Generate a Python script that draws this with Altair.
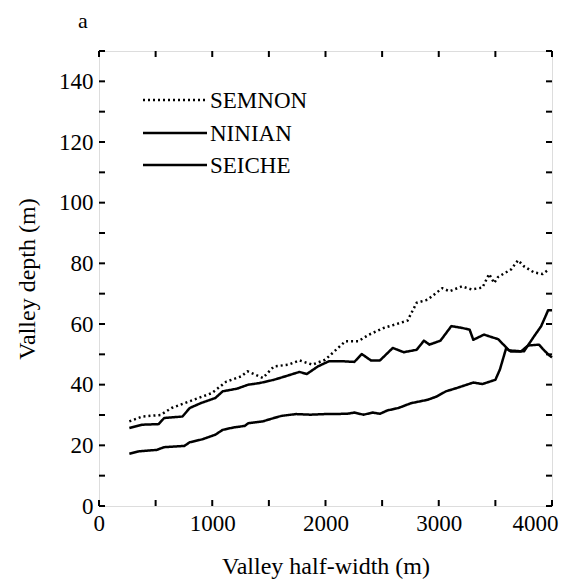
import altair as alt
import pandas as pd

# ---------------- data ----------------
semnon_x = [268, 381, 543, 640, 834, 995, 1124, 1253, 1312, 1447, 1544, 1674, 1770, 1884,
            1997, 2175, 2288, 2385, 2514, 2611, 2724, 2805, 2901, 3031, 3095, 3205, 3289,
            3386, 3445, 3489, 3524, 3639, 3700, 3753, 3841, 3918, 3965]
semnon_y = [27.9, 29.5, 30.0, 32.3, 35.0, 37.2, 41.0, 42.7, 44.4, 42.2, 46.0, 46.6, 48.0, 46.6,
            48.2, 54.3, 54.3, 56.5, 58.7, 59.8, 61.1, 67.0, 68.0, 71.8, 70.8, 72.4, 71.4,
            72.0, 76.5, 73.5, 75.5, 78.0, 81.0, 79.0, 77.0, 76.5, 77.8]

ninian_x = [268, 381, 527, 575, 737, 801, 898, 1027, 1092, 1221, 1318, 1415, 1544, 1641,
            1770, 1835, 1932, 2029, 2158, 2255, 2320, 2401, 2481, 2594, 2691, 2805, 2869,
            2918, 3015, 3111, 3208, 3273, 3305, 3400, 3524, 3577, 3621, 3727, 3789, 3885,
            3918, 3974, 4000]
ninian_y = [25.7, 26.8, 27.0, 29.0, 29.5, 32.3, 33.9, 35.6, 37.8, 38.7, 40.0, 40.5, 41.6, 42.7,
            44.2, 43.5, 46.0, 47.7, 47.7, 47.5, 50.1, 48.0, 48.0, 52.1, 50.7, 51.5, 54.5,
            53.2, 54.5, 59.3, 58.7, 58.1, 54.8, 56.5, 55.0, 53.0, 51.3, 51.0, 52.9, 53.2,
            51.8, 49.7, 49.0]

seiche_x = [268, 349, 511, 575, 753, 801, 914, 1027, 1092, 1189, 1286, 1318, 1447, 1544,
            1609, 1738, 1867, 1997, 2191, 2255, 2336, 2417, 2481, 2546, 2643, 2756, 2901,
            2982, 3063, 3160, 3305, 3386, 3500, 3540, 3595, 3639, 3753, 3841, 3903, 3947,
            3965, 4000]
seiche_y = [17.2, 18.0, 18.5, 19.4, 19.8, 21.0, 22.0, 23.5, 25.1, 25.9, 26.4, 27.3, 27.9, 29.0,
            29.7, 30.3, 30.1, 30.3, 30.4, 30.8, 30.1, 30.8, 30.4, 31.5, 32.3, 33.9, 35.0,
            36.1, 37.8, 38.9, 40.7, 40.2, 41.6, 45.0, 52.0, 50.9, 51.0, 55.9, 59.2, 62.9,
            64.5, 64.5]

series_names = ["SEMNON", "NINIAN", "SEICHE"]
x_tick_labels = [0, 1000, 2000, 3000, 4000]
y_tick_labels = [0, 20, 40, 60, 80, 100, 120, 140]
x_minor = list(range(0, 4001, 500))
y_minor = list(range(0, 151, 10))
panel_label = ["a"]

# ---------------- layout ----------------
W, H = 453, 455
FONT = "Liberation Serif"

rows = []
for name, xs, ys in [("SEMNON", semnon_x, semnon_y),
                     ("NINIAN", ninian_x, ninian_y),
                     ("SEICHE", seiche_x, seiche_y)]:
    for xv, yv in zip(xs, ys):
        rows.append({"series": name, "x": xv, "y": yv})
df = pd.DataFrame(rows)

xscale = alt.Scale(domain=[0, 4000], nice=False, zero=False)
yscale = alt.Scale(domain=[0, 150], nice=False, zero=False)

x_axis = alt.Axis(values=x_tick_labels, format="d", title="Valley half-width (m)", grid=False,
                  domain=False, ticks=False, tickSize=0, labelPadding=6, titlePadding=19,
                  labelFont=FONT, titleFont=FONT, labelFontSize=23, titleFontSize=24,
                  titleFontWeight="normal", labelColor="black", titleColor="black",
                  labelFlush=True, labelFlushOffset=6)
y_axis = alt.Axis(values=y_tick_labels, format="d", title="Valley depth (m)", grid=False,
                  domain=False, ticks=False, tickSize=0, labelPadding=6, titlePadding=19,
                  labelFont=FONT, titleFont=FONT, labelFontSize=23, titleFontSize=24,
                  titleFontWeight="normal", labelColor="black", titleColor="black",
                  labelFlush=False)

lines = alt.Chart(df).mark_line(color="black", strokeWidth=2.5, strokeJoin="round").encode(
    x=alt.X("x:Q", scale=xscale, axis=x_axis),
    y=alt.Y("y:Q", scale=yscale, axis=y_axis),
    detail="series:N",
    strokeDash=alt.StrokeDash("series:N",
                              scale=alt.Scale(domain=series_names,
                                              range=[[2, 3], [1, 0], [1, 0]]),
                              legend=None),
    order="x:Q",
)

# inside ticks (bottom, top, left, right), positioned through the scales
xt = pd.DataFrame({"v": x_minor})
yt = pd.DataFrame({"v": y_minor})

def xticks(y0, y1):
    return alt.Chart(xt).mark_rule(color="black", strokeWidth=2).encode(
        x=alt.X("v:Q", scale=xscale, axis=x_axis), y=alt.value(y0), y2=alt.value(y1))

def yticks(x0, x1):
    return alt.Chart(yt).mark_rule(color="black", strokeWidth=2).encode(
        y=alt.Y("v:Q", scale=yscale, axis=y_axis), x=alt.value(x0), x2=alt.value(x1))

ticks = [xticks(H, H - 6), xticks(0, 6), yticks(0, 6), yticks(W, W - 6)]

# legend drawn in the upper-left corner
leg_x0, leg_x1, leg_tx = 44, 108, 111
leg_y = [49, 82, 114]
dashes = [[2, 3], [1, 0], [1, 0]]
legend_layers = []
for name, yy, dash in zip(series_names, leg_y, dashes):
    ld = pd.DataFrame({"label": [name]})
    legend_layers.append(
        alt.Chart(ld).mark_rule(color="black", strokeWidth=2.5, strokeDash=dash).encode(
            x=alt.value(leg_x0), x2=alt.value(leg_x1), y=alt.value(yy)))
    legend_layers.append(
        alt.Chart(ld).mark_text(align="left", baseline="middle", font=FONT, fontSize=23,
                                color="black").encode(
            x=alt.value(leg_tx), y=alt.value(yy + 1), text="label:N"))

label_a = alt.Chart(pd.DataFrame({"t": panel_label})).mark_text(
    align="left", baseline="alphabetic", font=FONT, fontSize=22, color="black").encode(
    x=alt.value(-21), y=alt.value(-23), text="t:N")

chart = alt.layer(lines, *ticks, *legend_layers, label_a).properties(
    width=W, height=H,
    autosize=alt.AutoSizeParams(type="none"),
    padding={"left": 91, "top": 43, "right": 13, "bottom": 79},
).configure_view(stroke="black", strokeWidth=2).configure(background="white")

chart.save("out.html", embed_options={"renderer": "svg", "actions": False})
